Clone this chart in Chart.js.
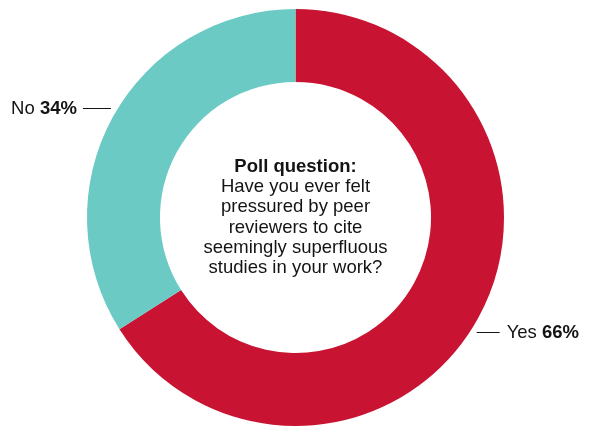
<!DOCTYPE html>
<html>
<head>
<meta charset="utf-8">
<script src="https://cdn.jsdelivr.net/npm/chart.js@4"></script>
<style>
  html, body { margin: 0; padding: 0; background: #fff; }
  canvas { display: block; }
</style>
</head>
<body>
<canvas id="pollChart" width="589" height="427"></canvas>
<script>
const categories = ['Yes', 'No'];
const shares = [66, 34];
const sliceColors = ['#C81432', '#6CCAC5'];
const centerTitle = 'Poll question:';
const centerLines = [
    'Have you ever felt',
    'pressured by peer',
    'reviewers to cite',
    'seemingly superfluous',
    'studies in your work?'
];

const fontFamily = '"Liberation Sans", Arial, sans-serif';

// center question + callout labels, drawn after the arcs
const pollText = {
    id: 'pollText',
    afterDraw(chart) {
        const ctx = chart.ctx;
        const meta = chart.getDatasetMeta(0);
        const arc0 = meta.data[0];
        const cx = arc0.x;
        const cy = arc0.y;

        ctx.save();
        ctx.fillStyle = '#141414';
        ctx.textAlign = 'center';
        ctx.textBaseline = 'middle';
        const lineH = 20.3;
        const allLines = [centerTitle, ...centerLines];
        const top = cy - (allLines.length - 1) * lineH / 2;
        allLines.forEach((line, i) => {
            ctx.font = (i === 0 ? 'bold ' : '') + '18.5px ' + fontFamily;
            ctx.fillText(line, cx, top + i * lineH);
        });

        meta.data.forEach((arc, i) => {
            const ang = arc.startAngle + (arc.endAngle - arc.startAngle) * 0.515;
            const r = arc.outerRadius + 6;
            const ax = cx + Math.cos(ang) * r;
            const ay = cy + Math.sin(ang) * r;
            const right = Math.cos(ang) >= 0;
            const lineLen = right ? 23 : 28;
            const ex = right ? ax + lineLen : ax - lineLen;

            ctx.strokeStyle = '#141414';
            ctx.lineWidth = 1;
            ctx.beginPath();
            ctx.moveTo(ax, Math.round(ay) + 0.5);
            ctx.lineTo(ex, Math.round(ay) + 0.5);
            ctx.stroke();

            const name = categories[i] + ' ';
            const pct = shares[i] + '%';
            ctx.textAlign = 'left';
            ctx.font = '18.5px ' + fontFamily;
            const wName = ctx.measureText(name).width;
            ctx.font = 'bold 18.5px ' + fontFamily;
            const wPct = ctx.measureText(pct).width;
            let tx = right ? ex + 7 : ex - 6 - wName - wPct;
            ctx.font = '18.5px ' + fontFamily;
            ctx.fillText(name, tx, ay + 1);
            ctx.font = 'bold 18.5px ' + fontFamily;
            ctx.fillText(pct, tx + wName, ay + 1);
        });
        ctx.restore();
    }
};

new Chart(document.getElementById('pollChart'), {
    type: 'doughnut',
    data: {
        labels: categories,
        datasets: [{
            data: shares,
            backgroundColor: sliceColors,
            borderWidth: 0,
            hoverOffset: 0
        }]
    },
    options: {
        responsive: false,
        animation: false,
        cutout: '65%',
        layout: { padding: { top: 9, bottom: 1, left: 87, right: 85 } },
        plugins: {
            legend: { display: false },
            tooltip: { enabled: false }
        }
    },
    plugins: [pollText]
});
</script>
</body>
</html>
